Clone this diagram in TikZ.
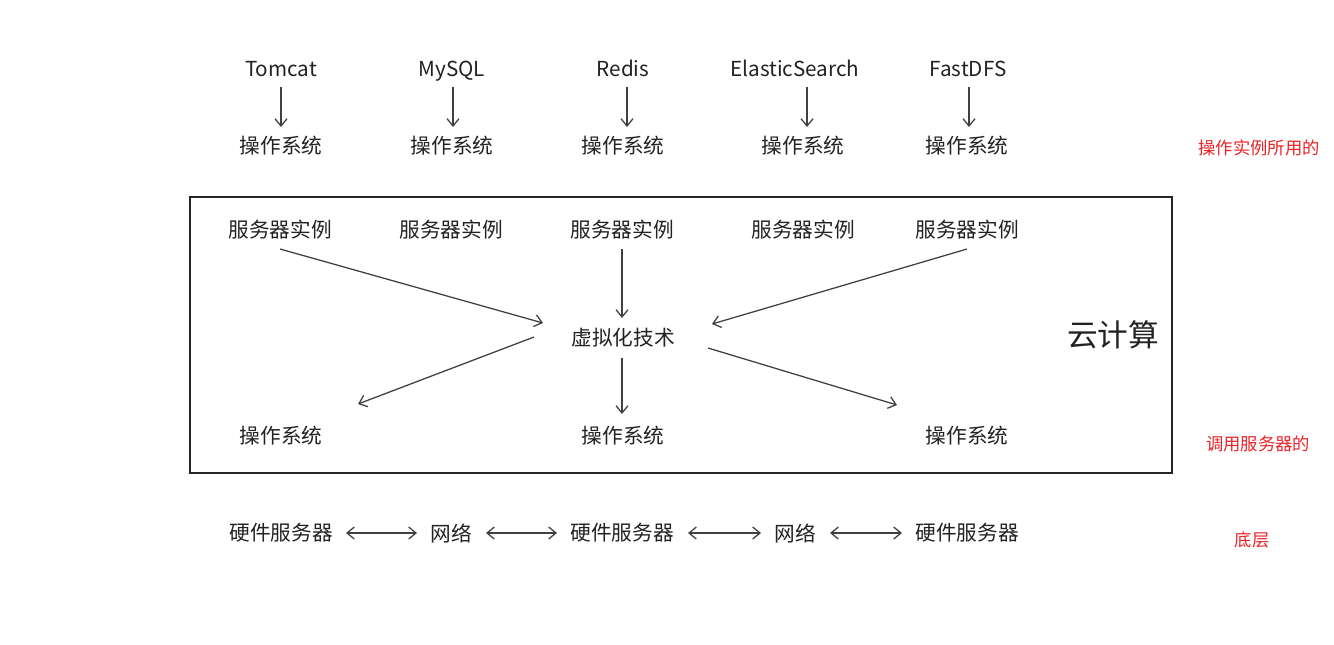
\documentclass[tikz,border=0pt]{standalone}
\usepackage{fontspec}
\setmainfont{Noto Sans CJK SC}
\usetikzlibrary{arrows.meta}
\definecolor{notered}{RGB}{235,35,40}
\definecolor{ink}{RGB}{34,34,34}
\begin{document}
\begin{tikzpicture}[x=0.75pt,y=-0.75pt,
  lbl/.style={font=\fontsize{15.5pt}{18pt}\selectfont, text=ink, inner sep=0pt},
  latin/.style={lbl, text height=0.72em, text depth=0pt},
  note/.style={font=\fontsize{13pt}{16pt}\selectfont, text=notered, inner sep=0pt},
  big/.style={font=\fontsize{23pt}{27pt}\selectfont, text=ink, inner sep=0pt},
  tip/.tip={Straight Barb[length=5.5pt,width=9pt]},
  arr/.style={-tip, line width=0.95pt, draw=black!75},
  darr/.style={tip-tip, line width=0.95pt, draw=black!75}
]
\useasboundingbox (0,0) rectangle (1334,644);
\fill[white] (0,0) rectangle (1334,644);

% top row
\node[latin] (t1) at (281,72) {Tomcat};
\node[latin] (t2) at (452,72) {MySQL};
\node[latin] (t3) at (623,72) {Redis};
\node[latin] (t4) at (795,72) {ElasticSearch};
\node[latin] (t5) at (968,72) {FastDFS};

\node[lbl] (o1) at (281,146) {操作系统};
\node[lbl] (o2) at (452,146) {操作系统};
\node[lbl] (o3) at (623,146) {操作系统};
\node[lbl] (o4) at (803,146) {操作系统};
\node[lbl] (o5) at (967,146) {操作系统};

\draw[arr] ([shift={(0,15)}]t1.center) -- ([shift={(0,-19)}]o1.center);
\draw[arr] ([shift={(1,15)}]t2.center) -- ([shift={(1,-19)}]o2.center);
\draw[arr] ([shift={(4,15)}]t3.center) -- ([shift={(4,-19)}]o3.center);
\draw[arr] ([shift={(12,15)}]t4.center) -- ([shift={(4,-19)}]o4.center);
\draw[arr] ([shift={(1,15)}]t5.center) -- ([shift={(2,-19)}]o5.center);

\node[note] (n_top) at (1259,148) {操作实例所用的};

% cloud box
\node[draw=black!85, line width=1.1pt, minimum width=736.5pt, minimum height=207pt, inner sep=0pt] (cloud) at (681,335) {};
\node[big] (cloudlbl) at (1113,335) {云计算};

\node[lbl] (s1) at (280,230) {服务器实例};
\node[lbl] (s2) at (451,230) {服务器实例};
\node[lbl] (s3) at (622,230) {服务器实例};
\node[lbl] (s4) at (803,230) {服务器实例};
\node[lbl] (s5) at (967,230) {服务器实例};

\node[lbl] (virt) at (623,338) {虚拟化技术};

\node[lbl] (b1) at (281,436) {操作系统};
\node[lbl] (b2) at (623,436) {操作系统};
\node[lbl] (b3) at (967,436) {操作系统};

\draw[arr] ([shift={(0,19)}]s1.center) -- ([shift={(-80,-15)}]virt.center);
\draw[arr] ([shift={(0,19)}]s3.center) -- ([shift={(-1,-20)}]virt.center);
\draw[arr] ([shift={(0,19)}]s5.center) -- ([shift={(89,-14)}]virt.center);
\draw[arr] ([shift={(-89,-1)}]virt.center) -- ([shift={(77,-32)}]b1.center);
\draw[arr] ([shift={(-1,20)}]virt.center) -- ([shift={(-1,-22)}]b2.center);
\draw[arr] ([shift={(85,10)}]virt.center) -- ([shift={(-70,-31)}]b3.center);

\node[note] (n_mid) at (1258,444) {调用服务器的};

% bottom row
\node[lbl] (h1) at (281,533) {硬件服务器};
\node[lbl] (w1) at (451,533) {网络};
\node[lbl] (h2) at (622,533) {硬件服务器};
\node[lbl] (w2) at (795,533) {网络};
\node[lbl] (h3) at (967,533) {硬件服务器};

\draw[darr] ([shift={(65,0)}]h1.center) -- ([shift={(-34,0)}]w1.center);
\draw[darr] ([shift={(35,0)}]w1.center) -- ([shift={(-65,0)}]h2.center);
\draw[darr] ([shift={(66,0)}]h2.center) -- ([shift={(-34,0)}]w2.center);
\draw[darr] ([shift={(35,0)}]w2.center) -- ([shift={(-65,0)}]h3.center);

\node[note] (n_bot) at (1252,540) {底层};
\end{tikzpicture}
\end{document}
